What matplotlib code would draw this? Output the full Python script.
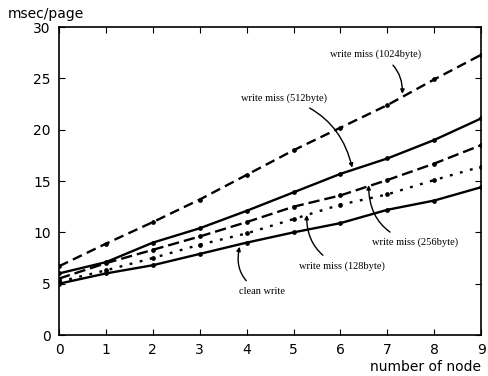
import matplotlib
matplotlib.use("Agg")
import matplotlib.pyplot as plt

# values
nodes = [0, 1, 2, 3, 4, 5, 6, 7, 8, 9]
miss_1024 = [6.7, 8.9, 11.0, 13.2, 15.6, 18.0, 20.2, 22.4, 24.9, 27.3]
miss_512 = [6.0, 7.1, 9.0, 10.4, 12.1, 13.9, 15.7, 17.2, 19.0, 21.1]
miss_256 = [5.5, 7.0, 8.3, 9.6, 11.0, 12.5, 13.6, 15.1, 16.7, 18.5]
miss_128 = [5.2, 6.3, 7.5, 8.8, 9.9, 11.3, 12.7, 13.7, 15.1, 16.4]
clean = [5.0, 6.0, 6.8, 7.9, 9.0, 10.0, 10.9, 12.2, 13.1, 14.4]

xticks = list(range(10))
yticks = [0, 5, 10, 15, 20, 25, 30]

fig = plt.figure(figsize=(4.88, 3.76), dpi=100)
ax = fig.add_axes([0.121, 0.109, 0.865, 0.819])

lw = 1.7
ax.plot(nodes, miss_1024, color="black", lw=lw, linestyle=(0, (4.2, 2.3)),
        marker="o", ms=2.4)
ax.plot(nodes, miss_512, color="black", lw=lw, linestyle="-",
        marker="o", ms=2.4)
ax.plot(nodes, miss_256, color="black", lw=lw, linestyle=(0, (4.8, 2.1)),
        marker="o", ms=2.4)
ax.plot(nodes, miss_128, color="black", lw=lw, linestyle=(0, (1.2, 3.2)),
        marker="o", ms=2.4)
ax.plot(nodes, clean, color="black", lw=lw, linestyle="-",
        marker="o", ms=2.4)

ax.set_xlim(0, 9)
ax.set_ylim(0, 30)
ax.set_xticks(xticks)
ax.set_yticks(yticks)
ax.tick_params(direction="in", top=True, right=True, length=4,
               labelsize=10, pad=6)
for sp in ax.spines.values():
    sp.set_linewidth(1.2)

fig.text(0.016, 0.962, "msec/page", fontsize=10, ha="left", va="center")
fig.text(0.986, 0.024, "number of node", fontsize=10, ha="right", va="center")

serif = dict(fontsize=7.5, family="Liberation Serif")
arrow = dict(arrowstyle="-|>", color="black", lw=1, mutation_scale=6)
notes = [
    ("write miss (1024byte)", (7.32, 23.5), (6.75, 27.4), "arc3,rad=-0.35"),
    ("write miss (512byte)", (6.25, 16.3), (4.8, 23.1), "arc3,rad=-0.3"),
    ("write miss (256byte)", (6.6, 14.6), (7.6, 9.0), "arc3,rad=-0.4"),
    ("write miss (128byte)", (5.28, 11.7), (6.03, 6.7), "arc3,rad=-0.35"),
    ("clean write", (3.85, 8.6), (4.32, 4.2), "arc3,rad=-0.4"),
]
for label, tip, pos, conn in notes:
    ax.annotate(label, xy=tip, xytext=pos, ha="center", va="center",
                arrowprops=dict(arrow, connectionstyle=conn,
                                shrinkA=4, shrinkB=0),
                **serif)

fig.savefig("out.png", dpi=100)
